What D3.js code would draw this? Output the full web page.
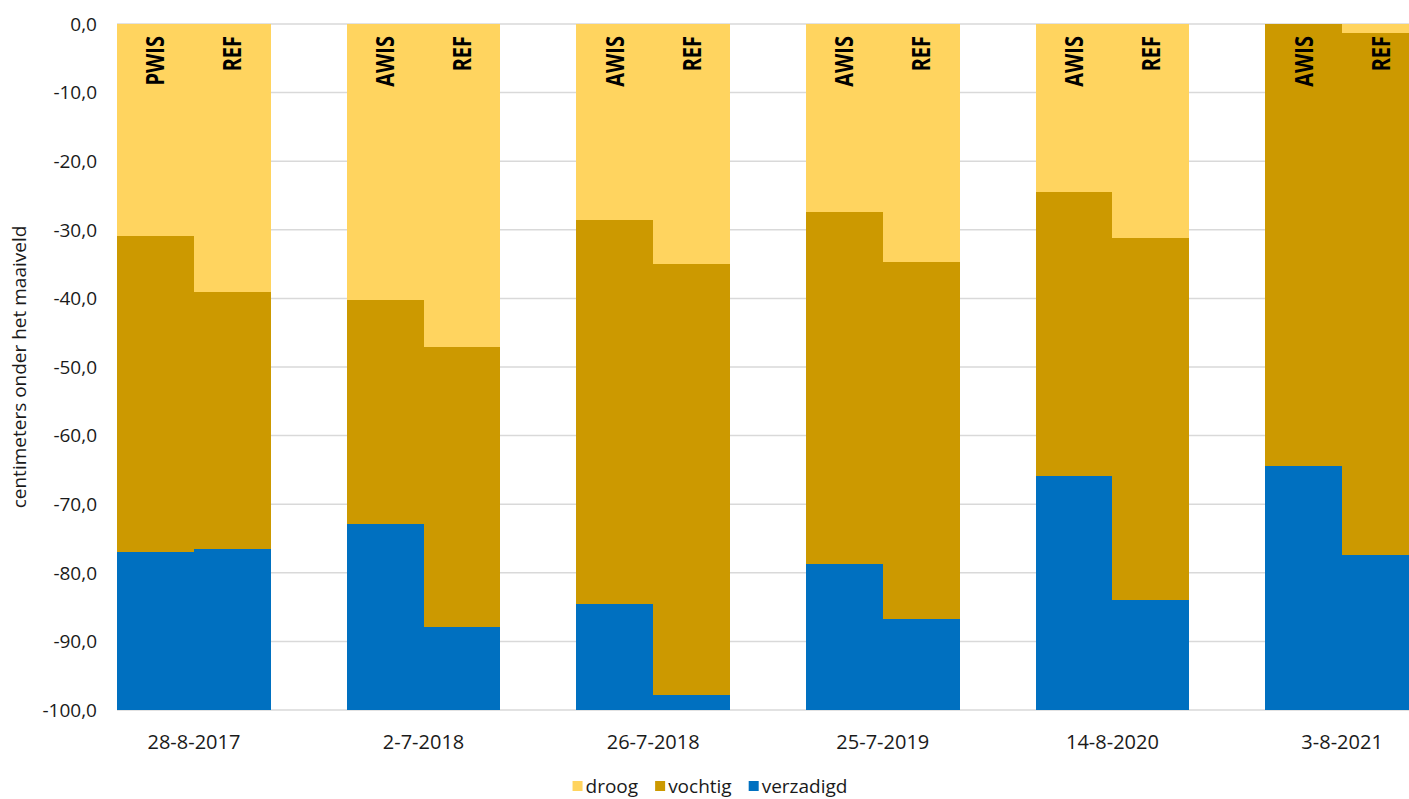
<!DOCTYPE html>
<html>
<head>
<meta charset="utf-8">
<script src="https://cdn.jsdelivr.net/npm/d3@7"></script>
<style>
  html, body { margin: 0; padding: 0; background: #fff; }
  svg { display: block; }
  text { font-family: "Open Sans", sans-serif; fill: #1a1a1a; }
</style>
</head>
<body>
<svg id="chart" width="1409" height="799"></svg>
<script>
// Meetdata: dikte van de zones (cm onder maaiveld), per bar van boven naar beneden
const dates = ["28-8-2017", "2-7-2018", "26-7-2018", "25-7-2019", "14-8-2020", "3-8-2021"];
const treatments = ["PWIS", "REF", "AWIS", "REF", "AWIS", "REF", "AWIS", "REF", "AWIS", "REF", "AWIS", "REF"];
const droog     = [30.9, 39.1, 40.2, 47.1, 28.6, 35.0, 27.4, 34.7, 24.5, 31.2, 0.0, 1.3];
const vochtig   = [46.1, 37.4, 32.7, 40.8, 55.9, 62.8, 51.3, 52.0, 41.4, 52.8, 64.4, 76.1];
const verzadigd = [23.0, 23.5, 27.1, 12.1, 15.5, 2.2, 21.3, 13.3, 34.1, 16.0, 35.6, 22.6];
const seriesNames = ["droog", "vochtig", "verzadigd"];
const yTicks = [0, -10, -20, -30, -40, -50, -60, -70, -80, -90, -100];
const yTitle = "centimeters onder het maaiveld";

const colors = { droog: "#FFD45F", vochtig: "#CC9900", verzadigd: "#0070C0" };

const svg = d3.select("#chart");
const plot = { left: 117, right: 1419, top: 24, bottom: 710 };

const rows = treatments.map((t, i) => ({
  date: dates[Math.floor(i / 2)],
  slot: String(i % 2),
  treatment: t,
  droog: droog[i],
  vochtig: vochtig[i],
  verzadigd: verzadigd[i]
}));

const x = d3.scaleBand().domain(dates).range([plot.left, plot.right])
  .paddingInner(0.33).paddingOuter(0);
const xInner = d3.scaleBand().domain(["0", "1"]).range([0, x.bandwidth()]).padding(0);
const y = d3.scaleLinear().domain([0, -100]).range([plot.top, plot.bottom]);

const nl = d3.formatLocale({ decimal: ",", thousands: ".", grouping: [3], currency: ["€", ""], minus: "-" });
const fmt = nl.format(".1f");

// rasterlijnen
svg.append("g").selectAll("line").data(yTicks).join("line")
  .attr("x1", plot.left).attr("x2", plot.right)
  .attr("y1", d => y(d)).attr("y2", d => y(d))
  .attr("stroke", "#d9d9d9").attr("stroke-width", 1.5);

// y-as labels
svg.append("g").selectAll("text").data(yTicks).join("text")
  .attr("x", 97).attr("y", d => y(d)).attr("dy", "0.36em")
  .attr("text-anchor", "end").style("font-size", "19px")
  .text(d => fmt(d));

// gestapelde kolommen (diepte loopt naar beneden)
const stack = d3.stack().keys(seriesNames);
const layers = stack(rows);
const bx = d => x(d.data.date) + xInner(d.data.slot);

svg.append("g").attr("shape-rendering", "crispEdges")
  .selectAll("g").data(layers).join("g")
  .attr("fill", l => colors[l.key])
  .selectAll("rect").data(l => l).join("rect")
  .attr("x", d => Math.round(bx(d)))
  .attr("width", d => Math.round(bx(d) + xInner.bandwidth()) - Math.round(bx(d)))
  .attr("y", d => y(-d[0]))
  .attr("height", d => Math.max(0, y(-d[1]) - y(-d[0])));

// behandelingslabels in de kolommen
svg.append("g").selectAll("text").data(rows).join("text")
  .attr("transform", d => `translate(${x(d.date) + xInner(d.slot) + xInner.bandwidth() / 2},36) rotate(-90) scale(0.8,1)`)
  .attr("text-anchor", "end").attr("dy", "0.36em")
  .style("font-weight", "bold").style("font-size", "25px")
  .style("fill", "#000")
  .text(d => d.treatment);

// datumlabels
svg.append("g").selectAll("text").data(dates).join("text")
  .attr("x", d => x(d) + x.bandwidth() / 2).attr("y", 749)
  .attr("text-anchor", "middle").style("font-size", "20px")
  .text(d => d);

// y-as titel
svg.append("text")
  .attr("transform", `translate(26,${(plot.top + plot.bottom) / 2}) rotate(-90)`)
  .attr("text-anchor", "middle").style("font-size", "19px")
  .text(yTitle);

// legenda
const legend = svg.append("g");
const items = legend.selectAll("g").data(seriesNames).join("g");
items.append("rect").attr("width", 10).attr("height", 10).attr("y", 781)
  .attr("fill", d => colors[d]);
items.append("text").attr("x", 13).attr("y", 793).style("font-size", "19px").text(d => d);
let widths = [];
items.each(function () { widths.push(13 + d3.select(this).select("text").node().getComputedTextLength()); });
const gap = 17;
const total = d3.sum(widths) + gap * (widths.length - 1);
let cx = 710 - total / 2;
items.attr("transform", (d, i) => { const t = `translate(${cx},0)`; cx += widths[i] + gap; return t; });
</script>
</body>
</html>
